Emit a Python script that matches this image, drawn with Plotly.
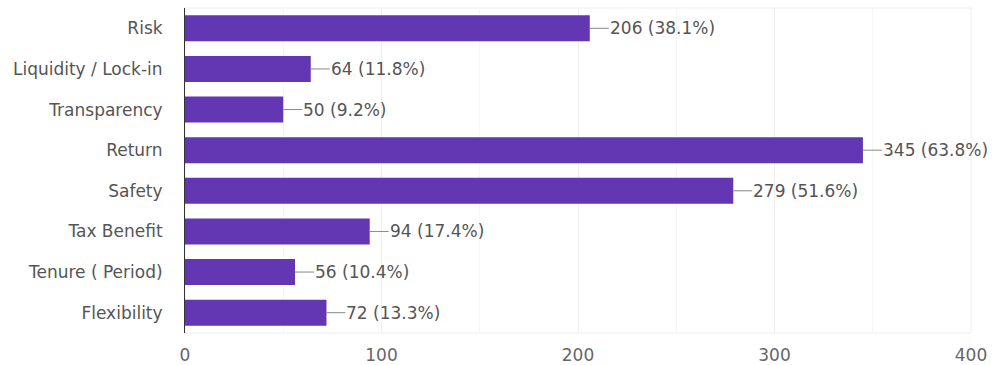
import plotly.graph_objects as go

categories = ["Risk", "Liquidity / Lock-in", "Transparency", "Return",
              "Safety", "Tax Benefit", "Tenure ( Period)", "Flexibility"]
counts = [206, 64, 50, 345, 279, 94, 56, 72]
percents = [38.1, 11.8, 9.2, 63.8, 51.6, 17.4, 10.4, 13.3]
x_ticks = [0, 100, 200, 300, 400]

bar_color = "#6336b4"
text_color = "#555555"
font_family = "DejaVu Sans, Liberation Sans, Arial, sans-serif"

fig = go.Figure(go.Bar(
    x=counts, y=categories, orientation="h",
    marker=dict(color=bar_color, line=dict(width=0)),
    width=0.64, hoverinfo="skip",
))

# Leader line and value label beside each bar
for cat, n, p in zip(categories, counts, percents):
    fig.add_shape(type="line", xref="x", yref="y",
                  xsizemode="pixel", xanchor=n, x0=0, x1=19,
                  y0=cat, y1=cat, line=dict(color="#888888", width=1))
    fig.add_annotation(x=n, y=cat, xref="x", yref="y",
                       text=f"{n} ({p}%)", showarrow=False,
                       xanchor="left", xshift=18,
                       font=dict(size=17, color=text_color, family=font_family))

fig.update_layout(
    width=992, height=365,
    margin=dict(l=185, r=21, t=8, b=32),
    paper_bgcolor="white", plot_bgcolor="white",
    showlegend=False,
    font=dict(family=font_family, size=17, color=text_color),
    xaxis=dict(range=[0, 400], tickvals=x_ticks, ticks="", showline=False,
               showgrid=True, gridcolor="#efefef", zeroline=False,
               minor=dict(dtick=50, showgrid=True, gridcolor="#f6f6f6"),
               ticklabelstandoff=10, automargin=False,
               tickfont=dict(size=17, color="#666666")),
    yaxis=dict(autorange="reversed", showline=True, linecolor="#333333",
               linewidth=1, ticks="", showgrid=False,
               ticklabelstandoff=18, automargin=False,
               tickfont=dict(size=17, color=text_color)),
)

# Light frame round the plotting area
fig.add_shape(type="rect", xref="paper", yref="paper", x0=0, x1=1, y0=0, y1=1,
              line=dict(color="#eeeeee", width=1), layer="below")

fig.write_html("out.html")
